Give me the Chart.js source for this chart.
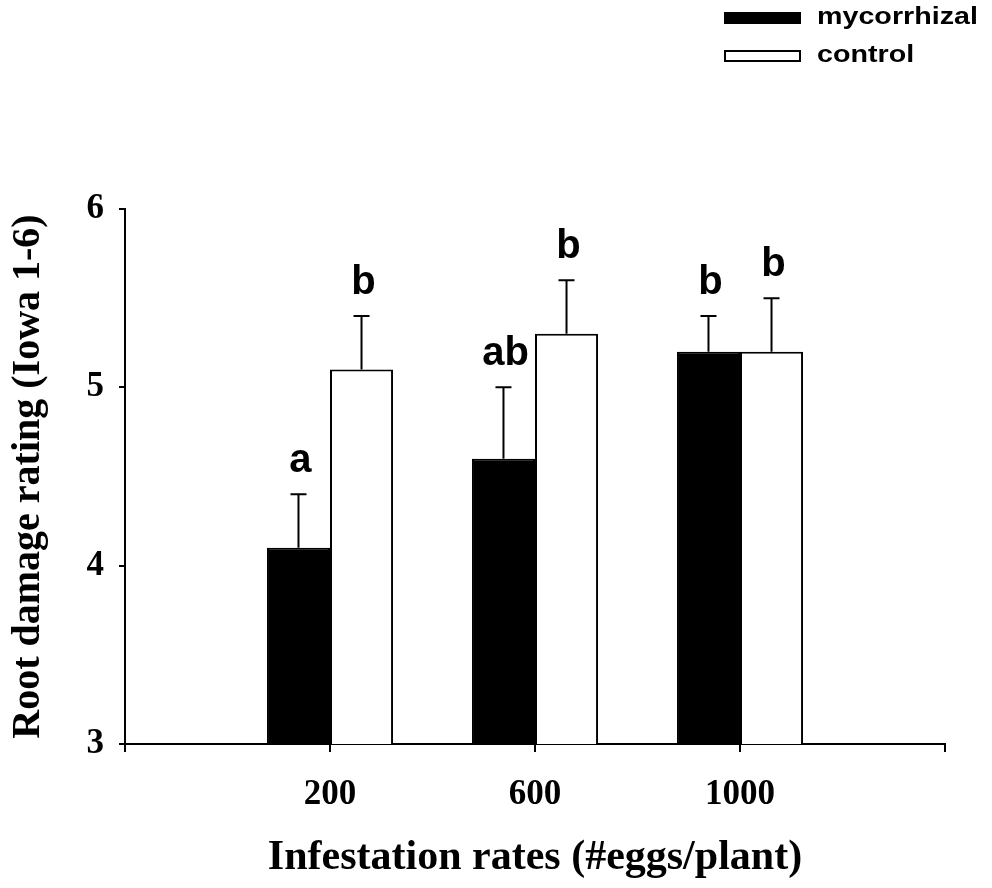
<!DOCTYPE html>
<html>
<head>
<meta charset="utf-8">
<script src="https://cdn.jsdelivr.net/npm/chart.js@4/dist/chart.umd.min.js"></script>
<style>
  html, body { margin: 0; padding: 0; background: #fff; }
  #wrap { width: 992px; height: 888px; }
</style>
</head>
<body>
<div id="wrap"><canvas id="c" width="992" height="888"></canvas></div>
<script>
// Infestation rates (empty slots pad the axis at both ends)
const rates = ['', '200', '600', '1000', ''];
// Mean root damage rating and standard error per treatment
const mycorrhizal = [null, 4.1, 4.6, 5.2, null];
const mycorrhizalErr = [null, 0.3, 0.4, 0.2, null];
const control = [null, 5.1, 5.3, 5.2, null];
const controlErr = [null, 0.3, 0.3, 0.3, null];
// Significance letters
const mycorrhizalLetters = [null, 'a', 'ab', 'b', null];
const controlLetters = [null, 'b', 'b', 'b', null];
// Y-axis ticks
const yTicks = [3, 4, 5, 6];

const serif = '"Liberation Serif", "Times New Roman", serif';
const sans = '"Liberation Sans", Arial, sans-serif';

// Upward error bars with caps, plus the letter above each bar
const errorBarPlugin = {
  id: 'errorBars',
  afterDatasetsDraw(chart) {
    const ctx = chart.ctx;
    const yScale = chart.scales.y;
    chart.data.datasets.forEach((ds, i) => {
      const meta = chart.getDatasetMeta(i);
      meta.data.forEach((bar, j) => {
        const v = ds.data[j];
        const e = ds.errors[j];
        if (v == null) return;
        const yTop = yScale.getPixelForValue(v + e);
        ctx.save();
        ctx.strokeStyle = '#000';
        ctx.lineWidth = 2;
        ctx.beginPath();
        ctx.moveTo(bar.x, bar.y);
        ctx.lineTo(bar.x, yTop);
        ctx.moveTo(bar.x - 8, yTop);
        ctx.lineTo(bar.x + 8, yTop);
        ctx.stroke();
        const letter = ds.letters[j];
        if (letter) {
          ctx.fillStyle = '#000';
          ctx.font = 'bold 40px ' + sans;
          ctx.textAlign = 'center';
          ctx.textBaseline = 'alphabetic';
          ctx.fillText(letter, bar.x + 2, yTop - 22);
        }
        ctx.restore();
      });
    });
  }
};

// Legend in the top-right corner, wide sans text
const legendPlugin = {
  id: 'cornerLegend',
  afterDraw(chart) {
    const ctx = chart.ctx;
    const rows = [{ boxTop: 13, baseline: 24 }, { boxTop: 51, baseline: 62 }];
    chart.data.datasets.forEach((ds, i) => {
      const r = rows[i];
      ctx.save();
      ctx.fillStyle = ds.backgroundColor;
      ctx.strokeStyle = '#000';
      ctx.lineWidth = 2;
      ctx.fillRect(725, r.boxTop, 75, 10);
      ctx.strokeRect(725, r.boxTop, 75, 10);
      ctx.translate(817, r.baseline);
      ctx.scale(1.17, 1);
      ctx.fillStyle = '#000';
      ctx.font = 'bold 24.5px ' + sans;
      ctx.textAlign = 'left';
      ctx.textBaseline = 'alphabetic';
      ctx.fillText(ds.label, 0, 0);
      ctx.restore();
    });
  }
};

new Chart(document.getElementById('c'), {
  type: 'bar',
  data: {
    labels: rates,
    datasets: [
      {
        label: 'mycorrhizal',
        data: mycorrhizal,
        errors: mycorrhizalErr,
        letters: mycorrhizalLetters,
        backgroundColor: '#000',
        borderColor: '#000',
        borderWidth: 2,
        borderSkipped: false
      },
      {
        label: 'control',
        data: control,
        errors: controlErr,
        letters: controlLetters,
        backgroundColor: '#fff',
        borderColor: '#000',
        borderWidth: 2,
        borderSkipped: false
      }
    ]
  },
  options: {
    responsive: false,
    animation: false,
    devicePixelRatio: 1,
    layout: { padding: { top: 209, right: 47, left: 0, bottom: 0 } },
    datasets: { bar: { categoryPercentage: 0.615, barPercentage: 1.0 } },
    plugins: { legend: { display: false }, tooltip: { enabled: false } },
    scales: {
      x: {
        type: 'category',
        offset: false,
        grid: { offset: false, drawOnChartArea: false, drawTicks: true, tickLength: 8, color: '#000', lineWidth: 2 },
        border: { color: '#000', width: 2 },
        ticks: {
          color: '#000',
          font: { family: serif, size: 35, weight: 'bold' },
          padding: 22,
          maxRotation: 0,
          autoSkip: false
        },
        title: {
          display: true,
          text: 'Infestation rates (#eggs/plant)',
          color: '#000',
          font: { family: serif, size: 42, weight: 'bold' },
          padding: { top: 0, bottom: 5 }
        },
        afterFit(scale) { scale.height = 144; }
      },
      y: {
        min: 3,
        max: 6,
        afterBuildTicks(scale) { scale.ticks = yTicks.map(v => ({ value: v })); },
        grid: { drawOnChartArea: false, drawTicks: true, tickLength: 6, color: '#000', lineWidth: 2 },
        border: { color: '#000', width: 2 },
        ticks: {
          color: '#000',
          font: { family: serif, size: 35, weight: 'bold' },
          padding: 15
        },
        title: {
          display: true,
          text: 'Root damage rating (Iowa 1-6)',
          color: '#000',
          font: { family: serif, size: 40, weight: 'bold' },
          padding: { top: 5, bottom: 0 }
        },
        afterFit(scale) { scale.width = 125; }
      }
    }
  },
  plugins: [errorBarPlugin, legendPlugin]
});
</script>
</body>
</html>
